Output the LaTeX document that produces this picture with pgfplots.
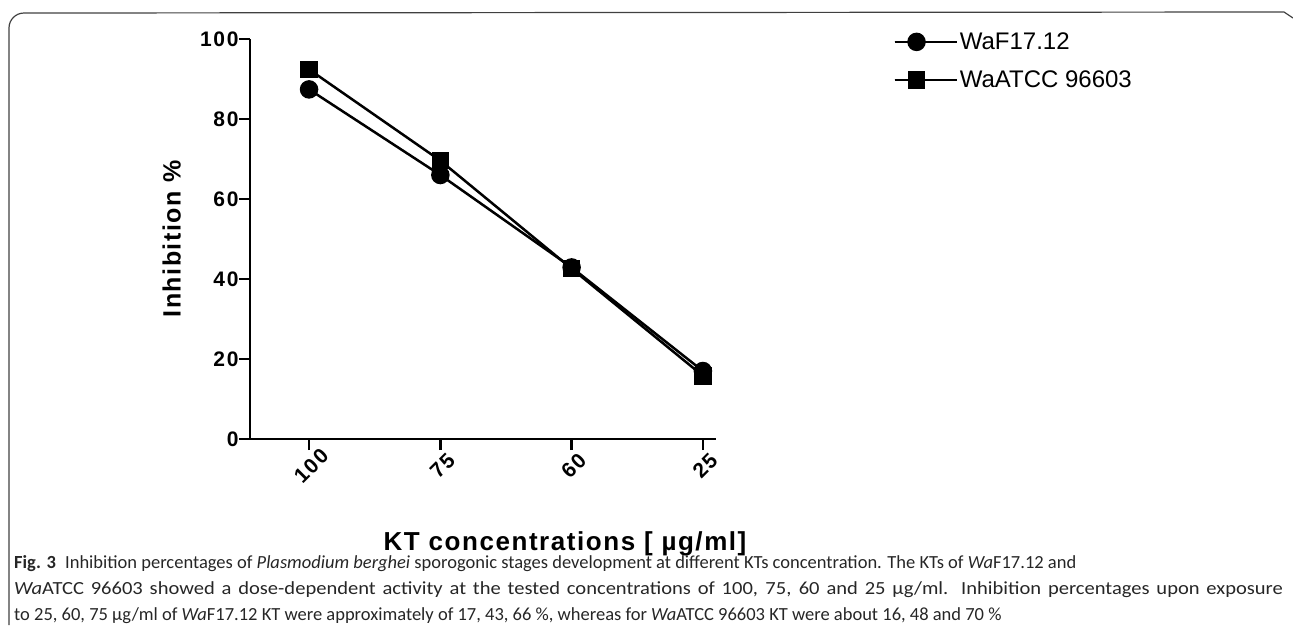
\documentclass[border=0pt]{standalone}
\usepackage{fontspec}
\setmainfont{Liberation Sans}
\newfontfamily\capfont{Carlito}
\newfontfamily\tickfont[LetterSpace=8]{Liberation Sans}
\newfontfamily\labfont[LetterSpace=6]{Liberation Sans}
\usepackage{pgfplots}
\pgfplotsset{compat=1.18}

\begin{document}
\begin{tikzpicture}
\useasboundingbox (0,0) rectangle (1293pt,-625pt);

% panel frame
\draw[line width=1.2pt, black!75] (9pt,-625pt) -- (9pt,-28pt) arc[start angle=180, end angle=90, radius=15pt] -- (1284pt,-12pt) -- (1293pt,-18pt);

\begin{axis}[
    at={(250pt,-439pt)}, anchor=south west,
    scale only axis,
    width=466pt, height=400pt,
    xmin=-0.45, xmax=3.1,
    ymin=0, ymax=100,
    axis x line=bottom, axis y line=left,
    axis line style={-, line width=2.6pt},
    tick align=outside,
    major tick length=11pt,
    every tick/.style={black, line width=2.4pt},
    xtick={0,1,2,3},
    xticklabels={100,75,60,25},
    ytick={0,20,40,60,80,100},
    /pgf/number format/assume math mode=true,
    tick label style={font=\tickfont\bfseries\fontsize{21}{24}\selectfont},
    xticklabel style={rotate=45, anchor=center, xshift=3pt},
    xticklabel shift=18pt,
    yticklabel shift=-3pt,
    ylabel={Inhibition \%},
    ylabel style={at={(axis description cs:-0.168,0.5)}, anchor=center, font=\labfont\bfseries\fontsize{25}{28}\selectfont},
    xlabel={KT concentrations [ µg/ml]},
    xlabel style={at={(axis description cs:0.676,-0.262)}, anchor=center, font=\labfont\bfseries\fontsize{26}{28}\selectfont},
    legend style={draw=none, fill=none, at={(rel axis cs:1.38,0.945)}, anchor=west,
        font=\fontsize{24}{28}\selectfont, row sep=16pt, inner sep=0pt,
        cells={anchor=west}},
    legend image code/.code={\draw[mark repeat=2, mark phase=2, #1] plot coordinates {(0pt,0pt) (22pt,0pt) (44pt,0pt)}; \path (0pt,0pt) -- (62pt,0pt);},
    clip=false,
]

\addplot[black, line width=2.5pt, mark=*, mark size=8pt, mark options={solid, fill=black}]
coordinates {(0,87.4) (1,66.0) (2,42.9) (3,17.0)};

\addplot[black, line width=2.5pt, mark=square*, mark size=7.5pt, mark options={solid, fill=black}]
coordinates {(0,92.4) (1,69.6) (2,42.6) (3,15.8)};

\legend{WaF17.12, WaATCC 96603}
\end{axis}

% caption
\node[anchor=base west, align=left, inner sep=0pt, text=black!85, font=\capfont\fontsize{18.5}{26}\selectfont]
  at (14pt,-620pt) {\textbf{Fig. 3}\enspace Inhibition percentages of \textit{Plasmodium berghei} sporogonic stages development at different KTs concentration. The KTs of \textit{Wa}F17.12 and\\
  \scalebox{1.11}[1]{\makebox[1143pt][s]{\textit{Wa}ATCC 96603 showed a dose-dependent activity at the tested concentrations of 100, 75, 60 and 25 µg/ml. Inhibition percentages upon exposure}}\\
  to 25, 60, 75 µg/ml of \textit{Wa}F17.12 KT were approximately of 17, 43, 66 \%, whereas for \textit{Wa}ATCC 96603 KT were about 16, 48 and 70 \%};
\end{tikzpicture}
\end{document}
